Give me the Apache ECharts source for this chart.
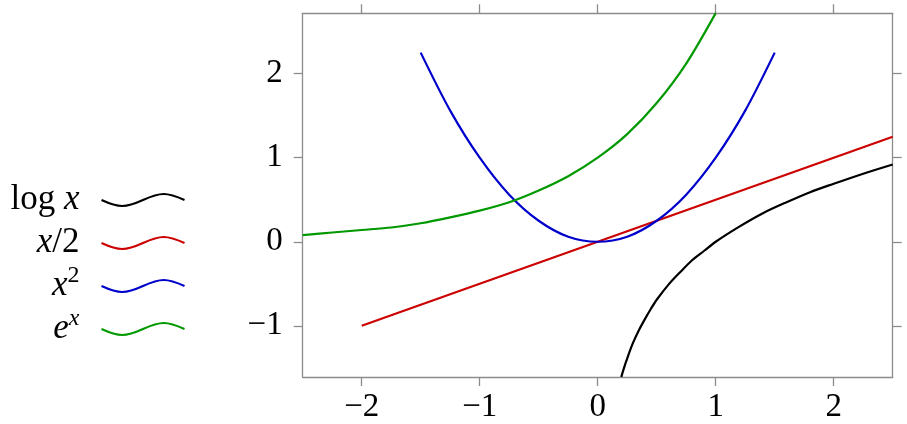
<!DOCTYPE html>
<html>
<head>
<meta charset="utf-8">
<script src="https://cdn.jsdelivr.net/npm/echarts@6/dist/echarts.min.js"></script>
<style>
  html, body { margin: 0; padding: 0; background: #fff; }
  #chart { width: 907px; height: 424px; }
</style>
</head>
<body>
<div id="chart"></div>
<script>
// 图表数据
const xTicks = [-2, -1, 0, 1, 2];
const yTicks = [-1, 0, 1, 2];

const logX = [0.2, 0.21, 0.23, 0.25, 0.275, 0.3, 0.35, 0.4, 0.45, 0.5, 0.6, 0.7, 0.8, 0.9, 1.0, 1.2, 1.4, 1.6, 1.8, 2.0, 2.25, 2.5];
const logY = [-1.61, -1.56, -1.47, -1.39, -1.29, -1.20, -1.05, -0.92, -0.80, -0.69, -0.51, -0.36, -0.22, -0.11, 0, 0.18, 0.34, 0.47, 0.59, 0.69, 0.81, 0.92];

const halfX = [-2, 2.5];
const halfY = [-1, 1.25];

const sqX = [-1.5, -1.25, -1, -0.75, -0.5, -0.25, 0, 0.25, 0.5, 0.75, 1, 1.25, 1.5];
const sqY = [2.25, 1.56, 1, 0.56, 0.25, 0.06, 0, 0.06, 0.25, 0.56, 1, 1.56, 2.25];

const expX = [-2.5, -2.25, -2, -1.75, -1.5, -1.25, -1, -0.75, -0.5, -0.25, 0, 0.25, 0.5, 0.75, 1];
const expY = [0.08, 0.11, 0.14, 0.17, 0.22, 0.29, 0.37, 0.47, 0.61, 0.78, 1, 1.28, 1.65, 2.12, 2.72];

const seriesNames = ['log', 'half', 'sq', 'exp'];
const seriesColors = ['#000000', '#cc0000', '#0000cc', '#009900'];
const legendLabels = ['{n|log }{i|x}{s|}', '{i|x}{n|/2}{s|}', '{i|x}{sup|2}{s|}', '{i|e}{supi|x}{s|}'];

const FONT = '"Liberation Serif", "DejaVu Serif", serif';
const AXIS_GREY = '#8c8c8c';
const LINE_H = 46;
// 图例中的波浪线
const WAVE = 'path://M0,6C6.8,9.1 13.8,12 20.75,12C27.7,12 34.6,9.1 41.5,6C48.4,2.9 55.3,0 62.25,0C69.2,0 76.1,2.9 83,6';

const pairs = (xs, ys) => xs.map((x, i) => [x, ys[i]]);
const minus = v => String(v).replace('-', '\u2212');

const chart = echarts.init(document.getElementById('chart'));

const axisCommon = {
    type: 'value',
    axisLine: { show: true, onZero: false, lineStyle: { color: AXIS_GREY, width: 1.3 } },
    axisTick: { show: true, inside: false, length: 9, lineStyle: { color: AXIS_GREY, width: 1.3 } },
    splitLine: { show: false }
};

const mainStyle = { fontFamily: FONT, fontSize: 35, lineHeight: LINE_H, verticalAlign: 'middle', color: '#000' };
const supStyle = { fontFamily: FONT, fontSize: 24, lineHeight: 26, height: 26, verticalAlign: 'top', color: '#000' };

const option = {
    animation: false,
    backgroundColor: '#fff',
    grid: { left: 302.7, right: 14.3, top: 13.3, bottom: 46.3, containLabel: false },
    legend: {
        orient: 'vertical',
        right: 720,
        top: 177,
        padding: 0,
        itemGap: 43 - LINE_H,
        itemWidth: 83,
        itemHeight: 12,
        align: 'right',
        selectedMode: false,
        data: seriesNames.map((n, i) => ({
            name: n,
            icon: WAVE,
            itemStyle: { color: 'none', borderColor: seriesColors[i], borderWidth: 2.2 }
        })),
        formatter: name => legendLabels[seriesNames.indexOf(name)],
        textStyle: {
            color: '#000',
            lineHeight: LINE_H,
            rich: {
                n: mainStyle,
                i: Object.assign({}, mainStyle, { fontStyle: 'italic' }),
                sup: supStyle,
                supi: Object.assign({}, supStyle, { fontStyle: 'italic' }),
                s: { width: 17, lineHeight: LINE_H }
            }
        }
    },
    xAxis: [
        Object.assign({}, axisCommon, {
            position: 'bottom',
            min: -2.5, max: 2.5,
            axisTick: Object.assign({}, axisCommon.axisTick, { customValues: xTicks }),
            axisLabel: {
                customValues: xTicks, margin: 14, color: '#000',
                fontFamily: FONT, fontSize: 33, formatter: minus
            }
        }),
        Object.assign({}, axisCommon, {
            position: 'top',
            min: -2.5, max: 2.5,
            axisTick: Object.assign({}, axisCommon.axisTick, { customValues: xTicks }),
            axisLabel: { show: false }
        })
    ],
    yAxis: [
        Object.assign({}, axisCommon, {
            position: 'left',
            min: -1.609, max: 2.718,
            axisTick: Object.assign({}, axisCommon.axisTick, { customValues: yTicks }),
            axisLabel: {
                customValues: yTicks, margin: 20, color: '#000',
                fontFamily: FONT, fontSize: 33, formatter: minus
            }
        }),
        Object.assign({}, axisCommon, {
            position: 'right',
            min: -1.609, max: 2.718,
            axisTick: Object.assign({}, axisCommon.axisTick, { customValues: yTicks }),
            axisLabel: { show: false }
        })
    ],
    series: [
        [logX, logY], [halfX, halfY], [sqX, sqY], [expX, expY]
    ].map(([xs, ys], i) => ({
        name: seriesNames[i],
        type: 'line',
        xAxisIndex: 0,
        yAxisIndex: 0,
        data: pairs(xs, ys),
        smooth: 0.3,
        showSymbol: false,
        symbol: 'none',
        clip: true,
        color: seriesColors[i],
        lineStyle: { color: seriesColors[i], width: 2.2 }
    }))
};

chart.setOption(option);
</script>
</body>
</html>
